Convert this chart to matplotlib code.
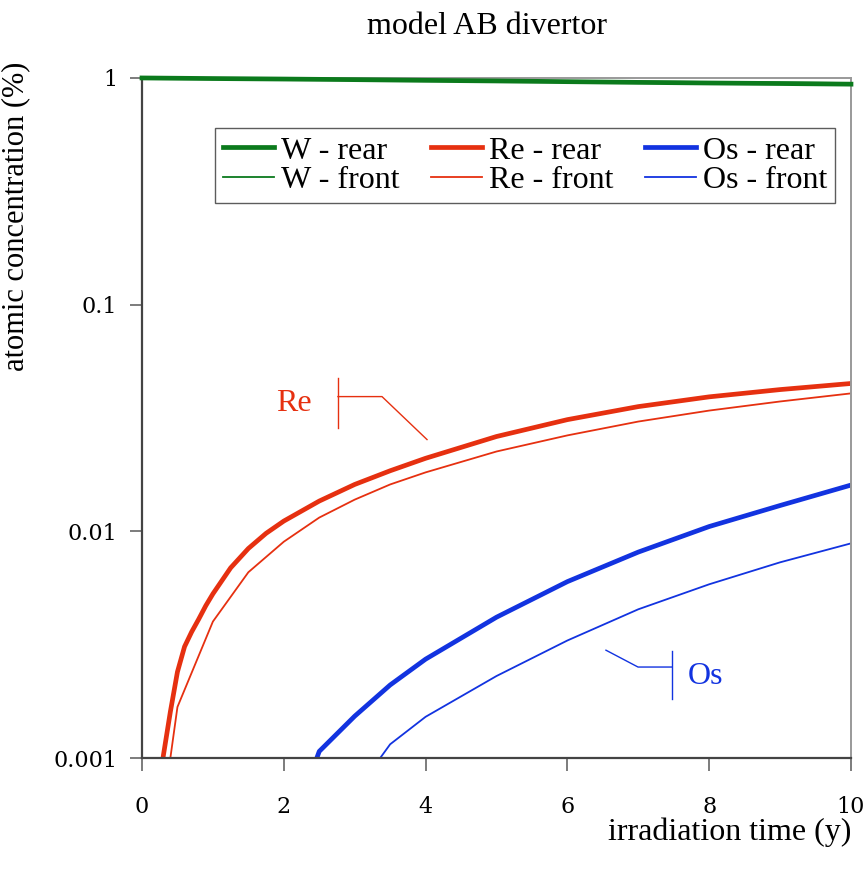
import matplotlib
matplotlib.use("Agg")
import matplotlib.pyplot as plt
from matplotlib.ticker import FixedLocator, FixedFormatter, NullLocator

plt.rcParams['font.family'] = ['Liberation Serif', 'DejaVu Serif']

# ---- data ----
t_w = [0, 1, 2, 3, 4, 5, 6, 7, 8, 9, 10]
w_rear = [1.0, 0.994, 0.989, 0.983, 0.976, 0.970, 0.963, 0.956, 0.950, 0.945, 0.939]
w_front = [1.0, 0.996, 0.991, 0.986, 0.980, 0.975, 0.970, 0.965, 0.960, 0.955, 0.950]

t_re_rear = [0.2, 0.3, 0.4, 0.5, 0.6, 0.7, 0.8, 0.9, 1.0, 1.25, 1.5, 1.75, 2, 2.5, 3,
             3.5, 4, 5, 6, 7, 8, 9, 10]
re_rear = [0.0005, 0.00102, 0.0016, 0.0024, 0.0031, 0.0036, 0.0041, 0.0047, 0.0053,
           0.0069, 0.0084, 0.0098, 0.0111, 0.0136, 0.0161, 0.0185, 0.0210, 0.0262,
           0.0311, 0.0355, 0.0392, 0.0422, 0.0449]
t_re_front = [0.25, 0.5, 1, 1.5, 2, 2.5, 3, 3.5, 4, 5, 6, 7, 8, 9, 10]
re_front = [0.00046, 0.00168, 0.0040, 0.0066, 0.0090, 0.0115, 0.0138, 0.0161, 0.0182,
            0.0225, 0.0265, 0.0305, 0.0341, 0.0374, 0.0406]

t_os_rear = [2.0, 2.5, 3, 3.5, 4, 5, 6, 7, 8, 9, 10]
os_rear = [0.0004, 0.00107, 0.00153, 0.0021, 0.00273, 0.00418, 0.0060, 0.0081,
           0.0105, 0.0130, 0.0160]
t_os_front = [3.0, 3.5, 4, 5, 6, 7, 8, 9, 10]
os_front = [0.0007, 0.00115, 0.00152, 0.0023, 0.0033, 0.00453, 0.00584, 0.0073, 0.00885]

x_ticks = [0, 2, 4, 6, 8, 10]
y_ticks = [0.001, 0.01, 0.1, 1]
y_tick_labels = ["0.001", "0.01", "0.1", "1"]

GREEN = '#0b7a1c'
RED = '#e63010'
BLUE = '#1233e0'

fig = plt.figure(figsize=(8.68, 8.72), dpi=100)
ax = fig.add_axes([0.1636, 0.1307, 0.9804 - 0.1636, 0.9106 - 0.1307])

lw_thick = 3.4
lw_thin = 1.3
ax.plot(t_w, w_front, color=GREEN, lw=lw_thin, label='W - front', clip_on=False, zorder=3)
ax.plot(t_w, w_rear, color=GREEN, lw=lw_thick, label='W - rear', clip_on=False, zorder=4)
ax.plot(t_re_rear, re_rear, color=RED, lw=lw_thick, label='Re - rear')
ax.plot(t_re_front, re_front, color=RED, lw=lw_thin, label='Re - front')
ax.plot(t_os_rear, os_rear, color=BLUE, lw=lw_thick, label='Os - rear')
ax.plot(t_os_front, os_front, color=BLUE, lw=lw_thin, label='Os - front')

ax.set_yscale('log')
ax.set_xlim(0, 10)
ax.set_ylim(0.001, 1)
ax.yaxis.set_major_locator(FixedLocator(y_ticks))
ax.yaxis.set_major_formatter(FixedFormatter(y_tick_labels))
ax.yaxis.set_minor_locator(NullLocator())
ax.set_xticks(x_ticks)
ax.set_xticklabels([str(v) for v in x_ticks])

for s in ['left', 'bottom']:
    ax.spines[s].set_color('#444444')
    ax.spines[s].set_linewidth(1.6)
for s in ['top', 'right']:
    ax.spines[s].set_color('#999999')
    ax.spines[s].set_linewidth(1.4)
ax.tick_params(axis='both', direction='out', length=9, width=1.2, color='#666666',
               labelsize=16, pad=9)
ax.tick_params(axis='x', pad=18)
for lab in ax.get_xticklabels() + ax.get_yticklabels():
    lab.set_fontfamily(['DejaVu Serif'])

ax.set_title('model AB divertor', fontsize=23, pad=32, x=0.487)
ax.set_xlabel('irradiation time (y)', fontsize=23)
ax.xaxis.set_label_coords(1.0, -0.087)
ax.xaxis.label.set_horizontalalignment('right')
ax.set_ylabel('atomic concentration (%)', fontsize=22, loc='top')
ax.yaxis.set_label_coords(-0.158, 1.024)

handles, labels = ax.get_legend_handles_labels()
order = ['W - rear', 'W - front', 'Re - rear', 'Re - front', 'Os - rear', 'Os - front']
hmap = dict(zip(labels, handles))
leg = ax.legend([hmap[k] for k in order], order, ncol=3, loc='upper right',
                bbox_to_anchor=(0.9775, 0.926), fontsize=23, frameon=True,
                fancybox=False, edgecolor='#333333', handlelength=1.6,
                handletextpad=0.2, columnspacing=1.0, labelspacing=0.0,
                borderpad=0.25, borderaxespad=0)
leg.get_frame().set_linewidth(1.0)

# callout labels
ax.plot([2.764, 2.764], [0.0477, 0.0287], color=RED, lw=1.0)
ax.plot([2.764, 3.385, 4.02], [0.0393, 0.0393, 0.0254], color=RED, lw=1.0)
ax.text(2.40, 0.0366, 'Re', color=RED, fontsize=23, ha='right', va='center')

ax.plot([7.475, 7.475], [0.00296, 0.00182], color=BLUE, lw=1.0)
ax.plot([7.475, 6.996, 6.544], [0.00252, 0.00252, 0.00299], color=BLUE, lw=1.0)
ax.text(7.70, 0.0023, 'Os', color=BLUE, fontsize=23, ha='left', va='center')

fig.savefig('out.png', dpi=100)
